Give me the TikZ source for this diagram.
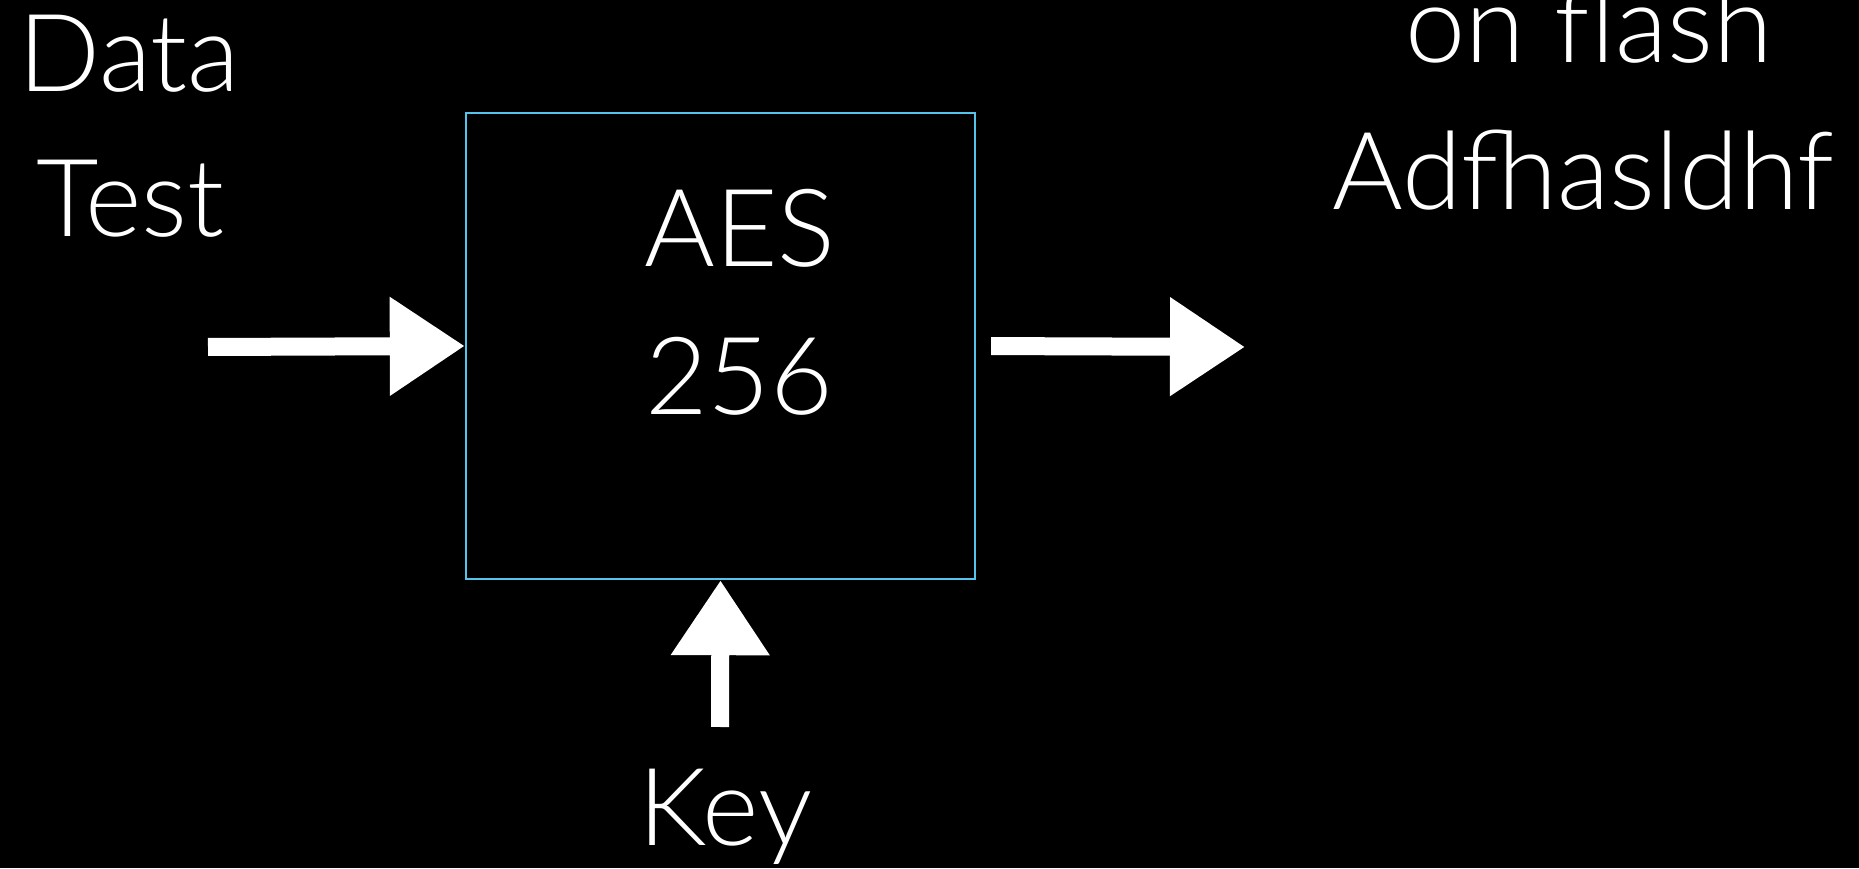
\documentclass[tikz,border=0pt]{standalone}
\usepackage{fontspec}
\setmainfont{Lato Light}
\usetikzlibrary{arrows.meta}

\definecolor{boxblue}{RGB}{84,196,236}
\tikzset{
  slide text/.style={text=white, font=\fontsize{54}{64}\selectfont, inner sep=0pt},
  chalk arrow/.style={white, line width=9pt, -{Triangle[length=37.5pt, width=47pt]}},
}

\begin{document}
\begin{tikzpicture}[x=0.5pt, y=0.5pt]
  % background
  \fill[black] (0,0) rectangle (1859,868);
  \useasboundingbox (0,0) rectangle (1859,868);

  % cipher box
  \node[draw=boxblue, line width=1.2pt, minimum width=254.5pt, minimum height=233pt, inner sep=0pt] (cipher) at (720.5,522) {};

  % labels
  \node[slide text, anchor=base west] (data) at (18,776) {Data};
  \node[slide text, anchor=base west] (test) at (36,631) {Test};
  \node[slide text, anchor=base] (aes) at (740,601) {AES};
  \node[slide text, anchor=base] (bits) at (739,453) {256};
  \node[slide text, anchor=base west] (key) at (638,23) {Key};
  \node[slide text, anchor=base] (flash) at (1589,805) {on flash};
  \node[slide text, anchor=base west] (cipher text) at (1332,658) {Adfhasldhf};

  % arrow ends
  \coordinate (src) at (208,521);
  \coordinate (dst) at (1245,521);
  \coordinate (keysrc) at (720,141);

  % arrows
  \draw[chalk arrow] (src) -- (cipher.west);
  \draw[chalk arrow, shorten <=7.5pt] (cipher.east) -- (dst);
  \draw[chalk arrow] (keysrc) -- (cipher.south);
\end{tikzpicture}
\end{document}
